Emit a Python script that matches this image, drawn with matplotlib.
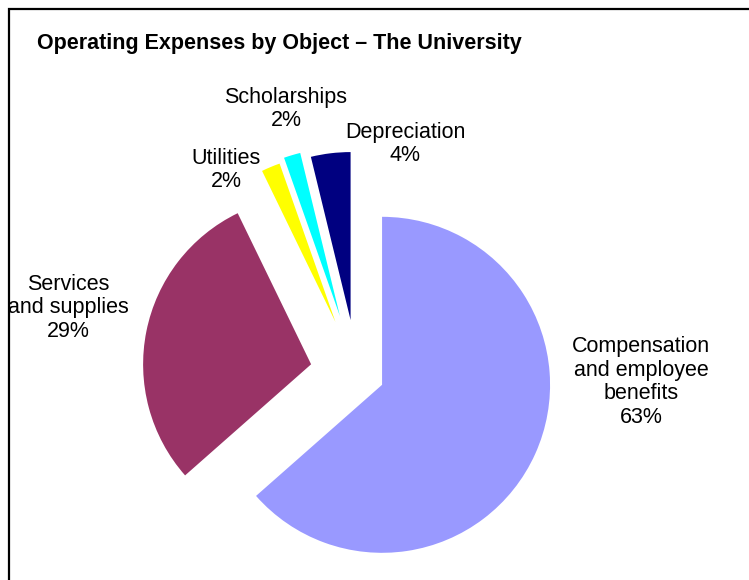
import matplotlib
matplotlib.use("Agg")
import matplotlib.pyplot as plt
from matplotlib.patches import Rectangle

# slices in drawing order, clockwise from 12 o'clock
categories = ["Compensation\nand employee\nbenefits", "Services\nand supplies",
              "Utilities", "Scholarships", "Depreciation"]
values = [63.5, 29.3, 1.8, 1.6, 3.8]
pct_labels = ["63%", "29%", "2%", "2%", "4%"]
colors = ["#9999FF", "#993366", "#FFFF00", "#00FFFF", "#000080"]
# matplotlib explode is in data units (pixels here)
explode = [27.5, 46.8, 55.8, 59.8, 53.8]

# label anchor points in pixels (x, y from top)
label_pos = [(641, 382), (68, 308), (226, 170), (286, 109), (405, 144)]

W, H = 749, 580
fig = plt.figure(figsize=(W / 100, H / 100), dpi=100)
ax = fig.add_axes([0, 0, 1, 1])

R = 168
cx, cy = 357, H - 373.5
ax.pie(values, colors=colors, explode=explode, startangle=90,
       counterclock=False, radius=R, center=(cx, cy),
       wedgeprops=dict(linewidth=0))

ax.set_xlim(0, W)
ax.set_ylim(0, H)
ax.set_aspect("equal")
ax.axis("off")

for name, pct, (x, y) in zip(categories, pct_labels, label_pos):
    ax.text(x, H - y, f"{name}\n{pct}", ha="center", va="center",
            fontsize=15.5, family="Liberation Sans", linespacing=1.15)

ax.text(37, H - 44, "Operating Expenses by Object \u2013 The University",
        ha="left", va="center", fontsize=15.5, fontweight="bold",
        family="Liberation Sans")

# chart border, runs off the right and bottom edges
ax.add_patch(Rectangle((8.5, -20), W + 20, H - 8.5 + 20, fill=False,
                       edgecolor="black", linewidth=1.6, clip_on=False))

fig.savefig("out.png", dpi=100)
